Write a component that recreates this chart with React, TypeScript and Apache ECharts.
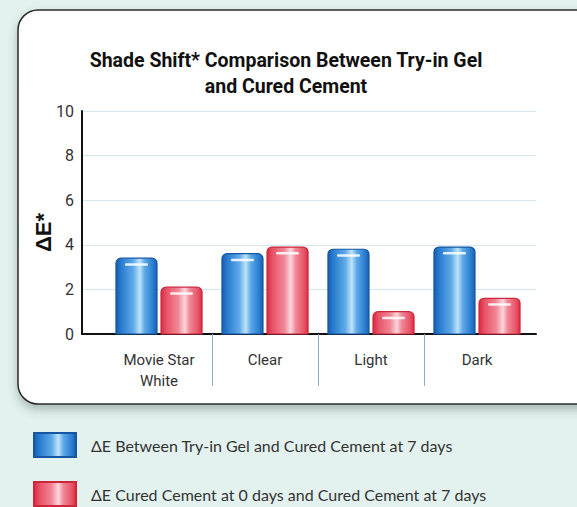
import React, { useEffect, useRef } from "react";
import * as echarts from "echarts";

const categories = ["Movie Star\nWhite", "Clear", "Light", "Dark"];
const seriesNames = [
  "ΔE Between Try-in Gel and Cured Cement at 7 days",
  "ΔE Cured Cement at 0 days and Cured Cement at 7 days",
];
const gelVsCured = [3.4, 3.6, 3.8, 3.9];
const curedVsCured = [2.1, 3.9, 1.0, 1.6];
const separatorPositions = [1, 2, 3];

const LABEL_FONT = "Roboto, 'Liberation Sans', sans-serif";

const makeFill = (edge: string, mid: string, light: string, hi: string) =>
  new echarts.graphic.LinearGradient(0, 0, 1, 0, [
    { offset: 0, color: edge },
    { offset: 0.14, color: mid },
    { offset: 0.42, color: light },
    { offset: 0.58, color: hi },
    { offset: 0.7, color: light },
    { offset: 0.9, color: mid },
    { offset: 1, color: edge },
  ]);
const blueFill = makeFill("#175eb2", "#2a7ed0", "#5ea9e8", "#bfe4fa");
const redFill = makeFill("#d92b42", "#e85468", "#f08796", "#fcd6dc");
const fills = [blueFill, redFill];
const borders = ["#1656a3", "#cf263c"];

function renderBar(params: any, api: any) {
  const cat = api.value(0);
  const val = api.value(1);
  const top = api.coord([cat, val]);
  const base = api.coord([cat, 0]);
  const band = api.size([1, 0])[0];
  const w = band * 0.387;
  const gap = band * 0.038;
  const x = params.seriesIndex === 0 ? top[0] - gap / 2 - w : top[0] + gap / 2;
  const h = base[1] - top[1];
  return {
    type: "group",
    children: [
      {
        type: "rect",
        shape: { x, y: top[1], width: w, height: h, r: [5, 5, 0, 0] },
        style: { fill: fills[params.seriesIndex], stroke: borders[params.seriesIndex], lineWidth: 1.2 },
      },
      {
        type: "rect",
        shape: { x: x + 9, y: top[1] + 5, width: w - 18, height: 2.5, r: 1 },
        style: { fill: "rgba(255,255,255,0.85)" },
      },
    ],
  };
}

export default function App() {
  const ref = useRef<HTMLDivElement>(null);
  useEffect(() => {
    if (!ref.current) return;
    const chart = echarts.init(ref.current, null, { renderer: "svg" });
    chart.setOption({
      animation: false,
      backgroundColor: "#e3f2ee",
      graphic: [
        {
          type: "rect",
          z: -10,
          shape: { x: 18, y: 10, width: 620, height: 394, r: 20 },
          style: {
            fill: "#ffffff",
            stroke: "#2a2a2a",
            lineWidth: 1.5,
            shadowBlur: 10,
            shadowOffsetY: 5,
            shadowColor: "rgba(60,80,80,0.35)",
          },
        },
      ],
      title: {
        text: "Shade Shift* Comparison Between Try-in Gel\nand Cured Cement",
        left: 281,
        textAlign: "center",
        top: 42,
        textStyle: {
          fontFamily: LABEL_FONT,
          fontWeight: "bold",
          fontSize: 19.5,
          lineHeight: 26,
          color: "#111",
        },
      },
      legend: [0, 1].map((i) => ({
        orient: "vertical",
        left: 33,
        top: i === 0 ? 432 : 481,
        padding: 0,
        itemWidth: 42,
        itemHeight: 24,
        icon: "rect",
        data: [seriesNames[i]],
        textStyle: { fontFamily: "Lato, 'Open Sans', sans-serif", fontSize: 16, color: "#333", padding: [0, 0, 0, 10] },
      })),
      grid: [
        { left: 82, right: 41, top: 111, bottom: 173 },
        { left: 106, right: 47, top: 111, bottom: 173 },
      ],
      xAxis: [
        {
          gridIndex: 0,
          type: "value",
          min: 0,
          max: 1,
          axisLine: { show: true, lineStyle: { color: "#111", width: 2 } },
          axisTick: { show: false },
          axisLabel: { show: false },
          splitLine: { show: false },
        },
        {
          gridIndex: 1,
          type: "category",
          position: "bottom",
          data: categories,
          axisLine: { show: false },
          axisTick: { show: false },
          axisLabel: {
            fontFamily: LABEL_FONT,
            fontSize: 15,
            lineHeight: 21,
            color: "#333",
            margin: 15,
          },
        },
        {
          gridIndex: 1,
          type: "value",
          position: "bottom",
          min: 0,
          max: 4,
          axisLine: { show: false },
          axisLabel: { show: false },
          splitLine: { show: false },
          axisTick: {
            show: true,
            customValues: separatorPositions,
            length: 52,
            lineStyle: { color: "#8eadc2", width: 1 },
          },
        },
      ],
      yAxis: [
        {
          gridIndex: 0,
          type: "value",
          min: 0,
          max: 10,
          interval: 2,
          name: "ΔE*",
          nameLocation: "middle",
          nameGap: 39,
          nameMoveOverlap: false,
          nameTextStyle: {
            fontFamily: "'Liberation Sans', Arial, sans-serif",
            fontWeight: "bold",
            fontSize: 22,
            color: "#111",
            verticalAlign: "middle",
            padding: [0, 0, 0, -20],
          },
          axisLine: { show: true, lineStyle: { color: "#111", width: 2 } },
          axisTick: { show: false },
          axisLabel: { fontFamily: LABEL_FONT, fontSize: 16, color: "#333", margin: 8 },
          splitLine: { show: true, lineStyle: { color: "#d4e7f3", width: 1 } },
        },
        {
          gridIndex: 1,
          type: "value",
          min: 0,
          max: 10,
          show: false,
          splitLine: { show: false },
        },
      ],
      series: [gelVsCured, curedVsCured].map((vals, i) => ({
        name: seriesNames[i],
        type: "custom",
        xAxisIndex: 1,
        yAxisIndex: 1,
        data: vals.map((v, k) => [k, v]),
        encode: { x: 0, y: 1 },
        itemStyle: { color: fills[i], borderColor: borders[i], borderWidth: 1 },
        renderItem: renderBar,
      })),
    });
    return () => chart.dispose();
  }, []);
  return <div ref={ref} style={{ position: "fixed", left: 0, top: 0, width: 577, height: 507 }} />;
}
